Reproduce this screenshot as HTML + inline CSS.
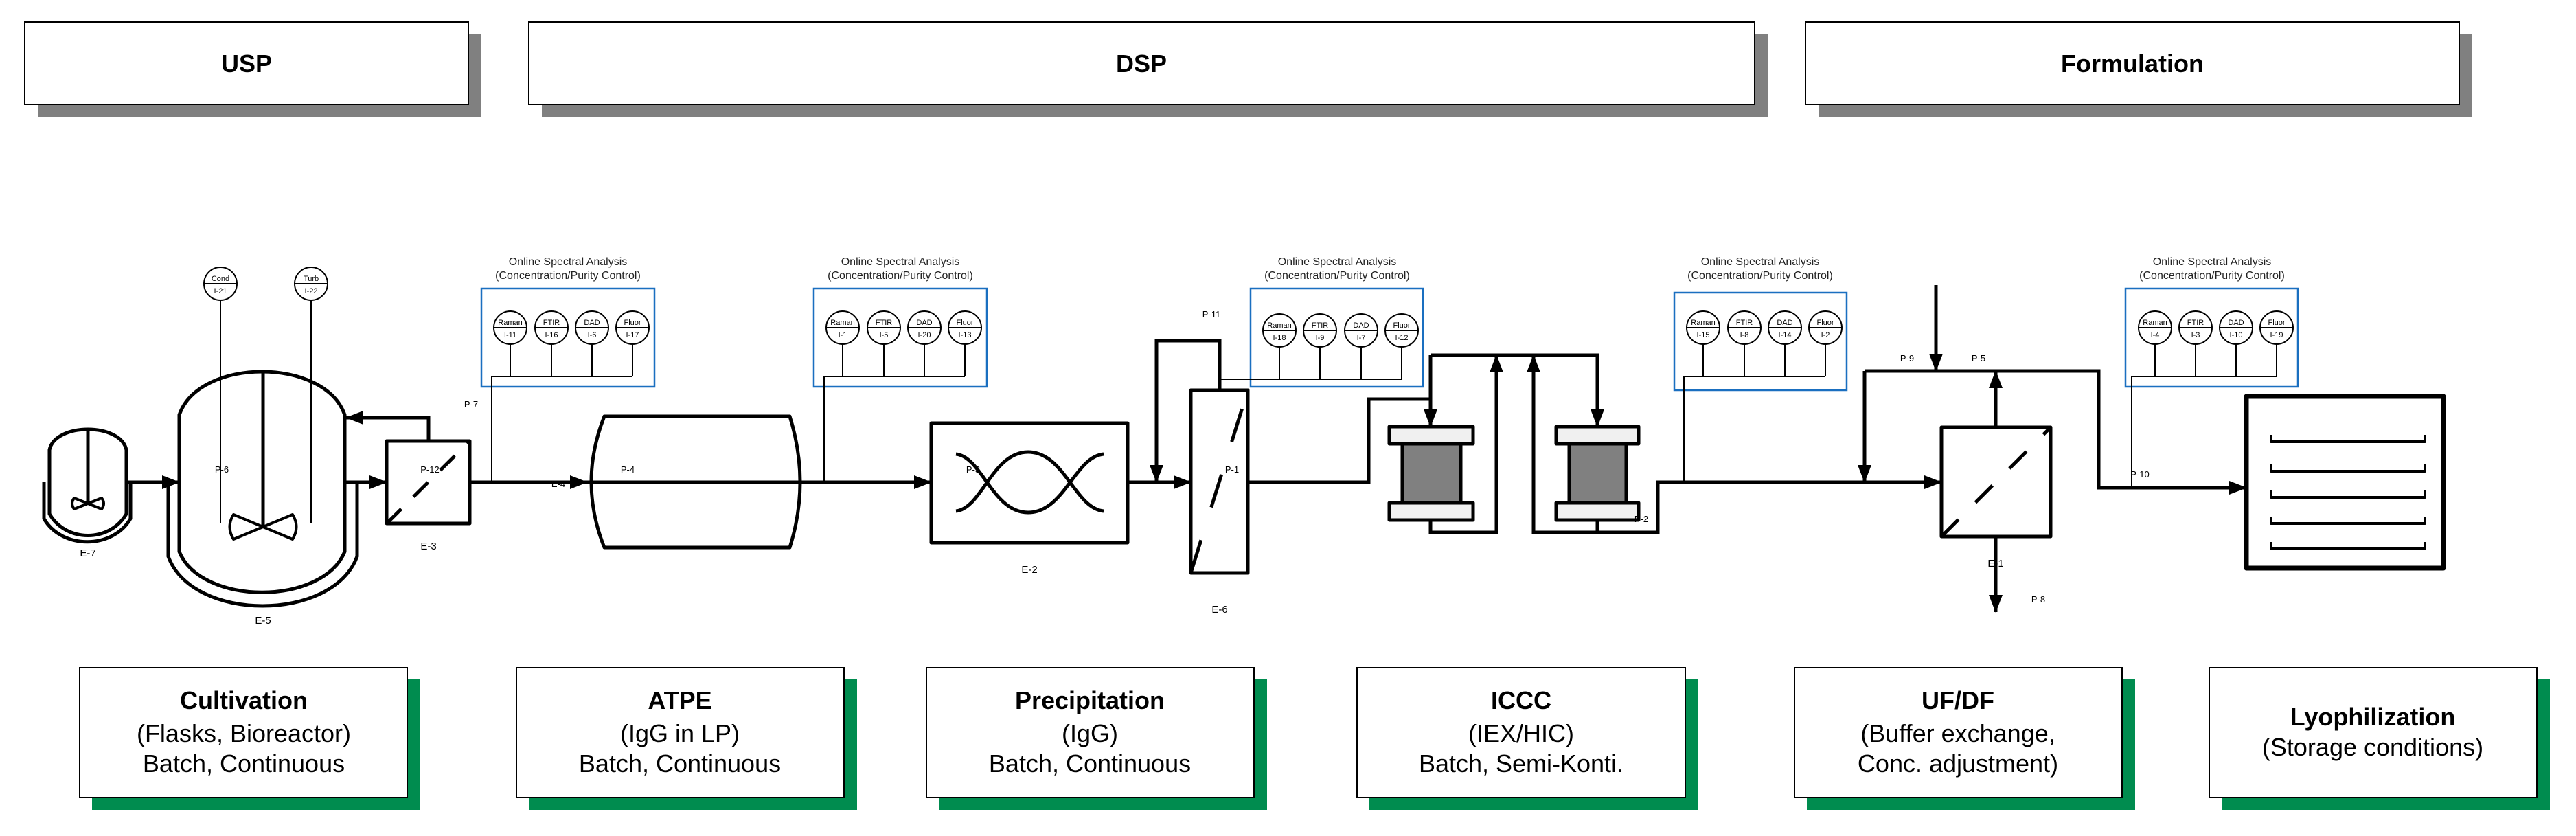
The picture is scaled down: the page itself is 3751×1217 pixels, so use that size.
<!DOCTYPE html>
<html><head><meta charset="utf-8"><style>
html,body{margin:0;padding:0;background:#fff;}
svg{display:block;}
text{font-family:"Liberation Sans",sans-serif;}
</style></head><body>
<svg width="3751" height="1217" viewBox="0 0 3751 1217" xmlns="http://www.w3.org/2000/svg">
<defs>
<marker id="ar" markerWidth="26" markerHeight="20" refX="25" refY="10" orient="auto" markerUnits="userSpaceOnUse" viewBox="0 0 26 20"><path d="M0,0 L26,10 L0,20 Z" fill="#000"/></marker>
<g id="inst"><circle r="24" fill="#fff" stroke="#000" stroke-width="2"/><line x1="-24" y1="0" x2="24" y2="0" stroke="#000" stroke-width="2"/></g>
</defs>
<!-- header boxes -->
<rect x="55" y="50" width="646" height="120" fill="#808080"/>
<rect x="36" y="32" width="646" height="120" fill="#fff" stroke="#000" stroke-width="2"/>
<text x="359" y="105" font-size="36" font-weight="bold" text-anchor="middle">USP</text>
<rect x="789" y="50" width="1785" height="120" fill="#808080"/>
<rect x="770" y="32" width="1785" height="120" fill="#fff" stroke="#000" stroke-width="2"/>
<text x="1662" y="105" font-size="36" font-weight="bold" text-anchor="middle">DSP</text>
<rect x="2648" y="50" width="952" height="120" fill="#808080"/>
<rect x="2629" y="32" width="952" height="120" fill="#fff" stroke="#000" stroke-width="2"/>
<text x="3105" y="105" font-size="36" font-weight="bold" text-anchor="middle">Formulation</text>

<!-- bottom boxes -->
<g font-size="36" text-anchor="middle">
<rect x="134" y="988" width="478" height="191" fill="#008c4f"/>
<rect x="116" y="972" width="477" height="189" fill="#fff" stroke="#000" stroke-width="2"/>
<text x="355" y="1032" font-weight="bold">Cultivation</text><text x="355" y="1080">(Flasks, Bioreactor)</text><text x="355" y="1124">Batch, Continuous</text>
<rect x="770" y="988" width="478" height="191" fill="#008c4f"/>
<rect x="752" y="972" width="477" height="189" fill="#fff" stroke="#000" stroke-width="2"/>
<text x="990" y="1032" font-weight="bold">ATPE</text><text x="990" y="1080">(IgG in LP)</text><text x="990" y="1124">Batch, Continuous</text>
<rect x="1367" y="988" width="478" height="191" fill="#008c4f"/>
<rect x="1349" y="972" width="477" height="189" fill="#fff" stroke="#000" stroke-width="2"/>
<text x="1587" y="1032" font-weight="bold">Precipitation</text><text x="1587" y="1080">(IgG)</text><text x="1587" y="1124">Batch, Continuous</text>
<rect x="1994" y="988" width="478" height="191" fill="#008c4f"/>
<rect x="1976" y="972" width="478" height="189" fill="#fff" stroke="#000" stroke-width="2"/>
<text x="2215" y="1032" font-weight="bold">ICCC</text><text x="2215" y="1080">(IEX/HIC)</text><text x="2215" y="1124">Batch, Semi-Konti.</text>
<rect x="2631" y="988" width="478" height="191" fill="#008c4f"/>
<rect x="2613" y="972" width="477" height="189" fill="#fff" stroke="#000" stroke-width="2"/>
<text x="2851" y="1032" font-weight="bold">UF/DF</text><text x="2851" y="1080">(Buffer exchange,</text><text x="2851" y="1124">Conc. adjustment)</text>
<rect x="3235" y="988" width="478" height="191" fill="#008c4f"/>
<rect x="3217" y="972" width="477" height="189" fill="#fff" stroke="#000" stroke-width="2"/>
<text x="3455" y="1056" font-weight="bold">Lyophilization</text><text x="3455" y="1100">(Storage conditions)</text>
</g>

<!-- instrument boxes -->
<g fill="none" stroke="#1a6fc0" stroke-width="2.5">
<rect x="701" y="420" width="252" height="143"/>
<rect x="1185" y="420" width="252" height="143"/>
<rect x="1821" y="420" width="251" height="143"/>
<rect x="2438" y="426" width="251" height="142"/>
<rect x="3095" y="420" width="251" height="143"/>
</g>
<g font-size="16" text-anchor="middle" fill="#222">
<text x="827" y="386">Online Spectral Analysis</text><text x="827" y="406">(Concentration/Purity Control)</text>
<text x="1311" y="386">Online Spectral Analysis</text><text x="1311" y="406">(Concentration/Purity Control)</text>
<text x="1947" y="386">Online Spectral Analysis</text><text x="1947" y="406">(Concentration/Purity Control)</text>
<text x="2563" y="386">Online Spectral Analysis</text><text x="2563" y="406">(Concentration/Purity Control)</text>
<text x="3221" y="386">Online Spectral Analysis</text><text x="3221" y="406">(Concentration/Purity Control)</text>
</g>
<!-- instrument lines -->
<g stroke="#000" stroke-width="2" fill="none">
<path d="M743,501V548M803,501V548M862,501V548M921,501V548M716,548H921M716,548V702"/>
<path d="M1227,501V548M1287,501V548M1346,501V548M1405,501V548M1200,548H1405M1200,548V702"/>
<path d="M1863,505V552M1922,505V552M1982,505V552M2041,505V552M1776,552H2041"/>
<path d="M2480,501V548M2540,501V548M2599,501V548M2658,501V548M2452,548H2658M2452,548V702"/>
<path d="M3138,501V548M3197,501V548M3256,501V548M3315,501V548M3104,548H3315M3104,548V710"/>
<path d="M321,434V761M453,434V761"/>
</g>
<g font-size="11" text-anchor="middle">
<use href="#inst" x="321" y="413"/><text x="321" y="409">Cond</text><text x="321" y="427">I-21</text>
<use href="#inst" x="453" y="413"/><text x="453" y="409">Turb</text><text x="453" y="427">I-22</text>
<use href="#inst" x="743" y="477"/><text x="743" y="473">Raman</text><text x="743" y="491">I-11</text>
<use href="#inst" x="803" y="477"/><text x="803" y="473">FTIR</text><text x="803" y="491">I-16</text>
<use href="#inst" x="862" y="477"/><text x="862" y="473">DAD</text><text x="862" y="491">I-6</text>
<use href="#inst" x="921" y="477"/><text x="921" y="473">Fluor</text><text x="921" y="491">I-17</text>
<use href="#inst" x="1227" y="477"/><text x="1227" y="473">Raman</text><text x="1227" y="491">I-1</text>
<use href="#inst" x="1287" y="477"/><text x="1287" y="473">FTIR</text><text x="1287" y="491">I-5</text>
<use href="#inst" x="1346" y="477"/><text x="1346" y="473">DAD</text><text x="1346" y="491">I-20</text>
<use href="#inst" x="1405" y="477"/><text x="1405" y="473">Fluor</text><text x="1405" y="491">I-13</text>
<use href="#inst" x="1863" y="481"/><text x="1863" y="477">Raman</text><text x="1863" y="495">I-18</text>
<use href="#inst" x="1922" y="481"/><text x="1922" y="477">FTIR</text><text x="1922" y="495">I-9</text>
<use href="#inst" x="1982" y="481"/><text x="1982" y="477">DAD</text><text x="1982" y="495">I-7</text>
<use href="#inst" x="2041" y="481"/><text x="2041" y="477">Fluor</text><text x="2041" y="495">I-12</text>
<use href="#inst" x="2480" y="477"/><text x="2480" y="473">Raman</text><text x="2480" y="491">I-15</text>
<use href="#inst" x="2540" y="477"/><text x="2540" y="473">FTIR</text><text x="2540" y="491">I-8</text>
<use href="#inst" x="2599" y="477"/><text x="2599" y="473">DAD</text><text x="2599" y="491">I-14</text>
<use href="#inst" x="2658" y="477"/><text x="2658" y="473">Fluor</text><text x="2658" y="491">I-2</text>
<use href="#inst" x="3138" y="477"/><text x="3138" y="473">Raman</text><text x="3138" y="491">I-4</text>
<use href="#inst" x="3197" y="477"/><text x="3197" y="473">FTIR</text><text x="3197" y="491">I-3</text>
<use href="#inst" x="3256" y="477"/><text x="3256" y="473">DAD</text><text x="3256" y="491">I-10</text>
<use href="#inst" x="3315" y="477"/><text x="3315" y="473">Fluor</text><text x="3315" y="491">I-19</text>
</g>

<!-- equipment -->
<g stroke="#000" stroke-width="5" fill="none" stroke-linejoin="round">
<path d="M72,748 L72,655 C80,615 176,615 184,655 L184,748 C160,790 96,790 72,748 Z"/>
<path d="M64,702 L64,755 C90,800 164,800 190,755 L190,702"/>
<line x1="128" y1="628" x2="128" y2="733"/>
<path d="M128,733 L108,725 Q102,733 108,741 Z M128,733 L148,725 Q154,733 148,741 Z" stroke-width="4"/>
<path d="M261,803 L261,604 C290,520 473,520 502,604 L502,803 C470,882 293,882 261,803 Z"/>
<path d="M245,702 L245,810 C280,906 485,906 520,810 L520,702" />
<line x1="383" y1="541" x2="383" y2="767"/>
<path d="M383,767 L340,749 Q329,767 340,785 Z M383,767 L426,749 Q437,767 426,785 Z" stroke-width="4"/>
<rect x="563" y="642" width="121" height="120"/>
<line x1="563" y1="762" x2="684" y2="642" stroke-dasharray="30,25"/>
<path d="M880,606 L1150,606 Q1180,702 1150,797 L880,797 Q842,702 880,606 Z"/>
<rect x="1356" y="616" width="286" height="174"/>
<path d="M1392,661 C1430,665 1445,746 1497,746 C1550,746 1565,665 1607,661"/>
<path d="M1392,744 C1430,740 1445,658 1497,658 C1550,658 1565,740 1607,744"/>
<rect x="1734" y="568" width="83" height="266"/>
<line x1="1734" y1="834" x2="1817" y2="568" stroke-dasharray="50,50"/>
<rect x="2042" y="646" width="85" height="86" fill="#808080"/>
<rect x="2023" y="621" width="122" height="25" fill="#f0f0f0"/>
<rect x="2023" y="732" width="122" height="25" fill="#f0f0f0"/>
<rect x="2285" y="646" width="83" height="86" fill="#808080"/>
<rect x="2266" y="621" width="120" height="25" fill="#f0f0f0"/>
<rect x="2266" y="732" width="120" height="25" fill="#f0f0f0"/>
<rect x="2827" y="622" width="159" height="159"/>
<line x1="2827" y1="781" x2="2986" y2="622" stroke-dasharray="35,35"/>
<rect x="3271" y="577" width="287" height="250" stroke-width="7"/>
<path d="M3307,633V643H3531V633 M3307,676V686H3531V676 M3307,714V724H3531V714 M3307,752V762H3531V752 M3307,789V799H3531V789" stroke-width="4"/>
</g>

<!-- connectors -->
<g stroke="#000" stroke-width="5" fill="none">
<line x1="184" y1="702" x2="261" y2="702" marker-end="url(#ar)"/>
<line x1="502" y1="702" x2="563" y2="702" marker-end="url(#ar)"/>
<path d="M624,642 V608 H504" marker-end="url(#ar)"/>
<line x1="684" y1="702" x2="855" y2="702" marker-end="url(#ar)"/>
<line x1="853" y1="702" x2="1356" y2="702" marker-end="url(#ar)"/>
<line x1="1642" y1="702" x2="1734" y2="702" marker-end="url(#ar)"/>
<path d="M1776,568 V496 H1684 V702" marker-end="url(#ar)"/>
<path d="M1817,702 H1993 V581 H2083"/>
<path d="M2083,517 V621" marker-end="url(#ar)"/>
<path d="M2083,517 H2326 V621" marker-end="url(#ar)"/>
<path d="M2083,757 V775 H2179 V517" marker-end="url(#ar)"/>
<path d="M2326,757 V775 H2233 V517" marker-end="url(#ar)"/>
<path d="M2326,775 H2414 V702 H2827" marker-end="url(#ar)"/>
<path d="M2819,415 V540" marker-end="url(#ar)"/>
<path d="M2715,540 H3056 V710 H3271" marker-end="url(#ar)"/>
<path d="M2715,540 V702" marker-end="url(#ar)"/>
<path d="M2906,622 V540" marker-end="url(#ar)"/>
<path d="M2906,781 V891" marker-end="url(#ar)"/>
</g>

<!-- labels -->
<g font-size="13" text-anchor="middle">
<text x="323" y="688">P-6</text><text x="626" y="688">P-12</text><text x="686" y="593">P-7</text>
<text x="813" y="709">E-4</text><text x="914" y="688">P-4</text><text x="1417" y="688">P-3</text>
<text x="1764" y="462">P-11</text><text x="1794" y="688">P-1</text><text x="2390" y="760">P-2</text>
<text x="2777" y="526">P-9</text><text x="2881" y="526">P-5</text><text x="3116" y="695">P-10</text>
<text x="2968" y="877">P-8</text>
</g>
<g font-size="15" text-anchor="middle">
<text x="128" y="810">E-7</text><text x="383" y="908">E-5</text><text x="624" y="800">E-3</text>
<text x="1499" y="834">E-2</text><text x="1776" y="892">E-6</text><text x="2906" y="825">E-1</text>
</g>
</svg>
</body></html>
